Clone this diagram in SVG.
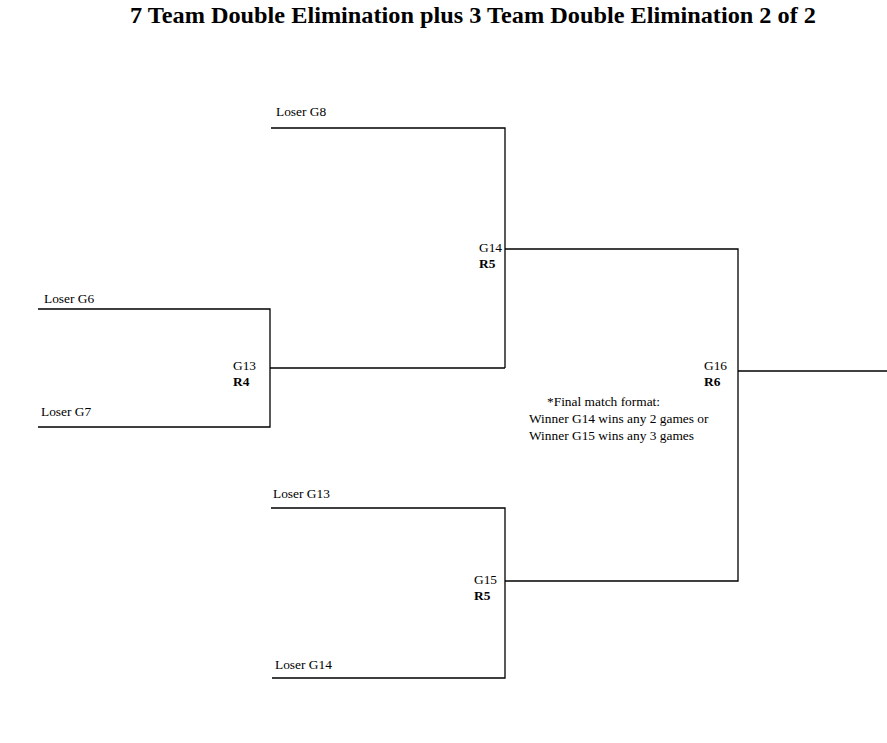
<svg xmlns="http://www.w3.org/2000/svg" width="887" height="743" viewBox="0 0 887 743">
<style>
.t{font-family:"Liberation Serif","Times New Roman",serif;font-size:13.4px;fill:#000}
.b{font-weight:bold}
.ln{stroke:#000;stroke-width:1.3;fill:none}
.title{font-family:"Liberation Serif","Times New Roman",serif;font-size:24px;font-weight:bold;fill:#000}
</style>
<rect width="887" height="743" fill="#fff"/>
<text class="title" x="130" y="23" textLength="686" lengthAdjust="spacingAndGlyphs">7 Team Double Elimination plus 3 Team Double Elimination 2 of 2</text>
<g id="connectors">
<path class="ln" d="M38,309 H270 V427 H38"/>
<path class="ln" d="M270,368 H505"/>
<path class="ln" d="M271,128 H505 V368"/>
<path class="ln" d="M505,249 H738 V581 H505"/>
<path class="ln" d="M271,508 H505 V678 H272"/>
<path class="ln" d="M738,371 H887"/>
</g>
<g id="loser-g8"><text class="t" x="276" y="116">Loser G8</text></g>
<g id="loser-g6"><text class="t" x="44" y="303">Loser G6</text></g>
<g id="loser-g7"><text class="t" x="41" y="416">Loser G7</text></g>
<g id="loser-g13"><text class="t" x="273" y="498">Loser G13</text></g>
<g id="loser-g14"><text class="t" x="275" y="669">Loser G14</text></g>
<g id="g13"><text class="t" x="233" y="370">G13</text><text class="t b" x="233" y="386">R4</text></g>
<g id="g14"><text class="t" x="479" y="252">G14</text><text class="t b" x="479" y="268">R5</text></g>
<g id="g15"><text class="t" x="474" y="584">G15</text><text class="t b" x="474" y="600">R5</text></g>
<g id="g16"><text class="t" x="704" y="370">G16</text><text class="t b" x="704" y="386">R6</text></g>
<g id="note">
<text class="t" x="547" y="406">*Final match format:</text>
<text class="t" x="529" y="423">Winner G14 wins any 2 games or</text>
<text class="t" x="529" y="440">Winner G15 wins any 3 games</text>
</g>
</svg>
